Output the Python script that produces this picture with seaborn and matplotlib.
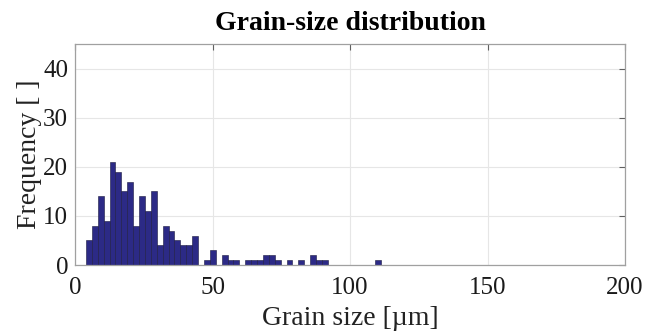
import numpy as np
import pandas as pd
import matplotlib
matplotlib.use("Agg")
import matplotlib.pyplot as plt
import seaborn as sns

# Histogram counts per bin (bins of equal width starting at first_edge)
first_edge = 4.0
bin_width = 2.145
counts = [5, 8, 14, 9, 21, 19, 15, 17, 8, 14, 11, 15, 4, 8, 7, 5, 4, 4, 6,
          0, 1, 3, 0, 2, 1, 1, 0, 1, 1, 1, 2, 2, 1, 0, 1, 0, 1, 0, 2, 1,
          1, 0, 0, 0, 0, 0, 0, 0, 0, 1]

x_ticks = [0, 50, 100, 150, 200]
y_ticks = [0, 10, 20, 30, 40]
title = "Grain-size distribution"
x_label = "Grain size [\u00b5m]"
y_label = "Frequency [ ]"

edges = (first_edge + bin_width * np.arange(len(counts) + 1)).tolist()
centers = [(a + b) / 2 for a, b in zip(edges[:-1], edges[1:])]
df = pd.DataFrame({"size": centers, "count": counts})

sns.set_theme(style="white")
plt.rcParams["font.family"] = ["Liberation Serif", "DejaVu Serif"]

fig = plt.figure(figsize=(6.6, 3.33), dpi=100)
ax = fig.add_axes([75 / 660, 1 - 265 / 333, 550 / 660, (265 - 44.3) / 333])

sns.histplot(data=df, x="size", weights="count", bins=edges, ax=ax,
             color="#2c2a86", edgecolor="#1a1840", linewidth=0.4, alpha=1.0)

ax.set_xlim(0, 200)
ax.set_ylim(0, 45)
ax.set_xticks(x_ticks)
ax.set_yticks(y_ticks)
ax.grid(True, color="#e6e6e6", linewidth=0.8)
ax.set_axisbelow(True)
for s in ax.spines.values():
    s.set_color("#a0a0a0")
    s.set_linewidth(0.9)
ax.tick_params(direction="in", length=4, width=0.8, color="#606060",
               top=True, right=True, labelsize=18, labelcolor="#1a1a1a")
ax.tick_params(axis="y", pad=5)
ax.tick_params(axis="x", pad=9)

ax.set_xlabel(x_label, fontsize=20, color="#222222", labelpad=5)
ax.set_ylabel(y_label, fontsize=20, color="#222222", labelpad=1)
ax.set_title(title, fontsize=20, fontweight="bold", color="black", pad=10)

fig.savefig("out.png", dpi=100)
